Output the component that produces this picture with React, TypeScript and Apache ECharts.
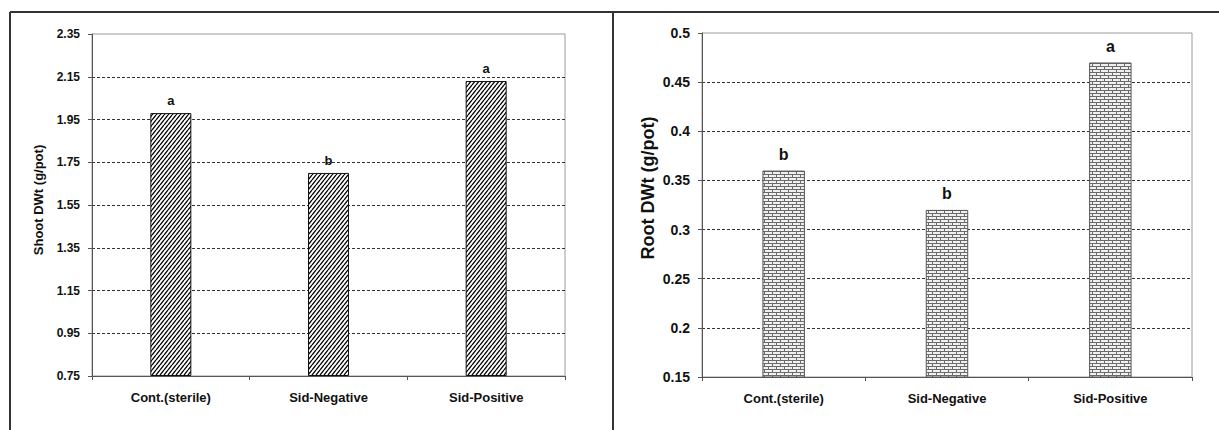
import React, { useEffect, useRef } from 'react';
import * as echarts from 'echarts';

const categories = ['Cont.(sterile)', 'Sid-Negative', 'Sid-Positive'];

const shootValues = [1.98, 1.7, 2.13];
const shootLetters = ['a', 'b', 'a'];
const shootAxisMin = 0.75;
const shootAxisMax = 2.35;
const shootAxisStep = 0.2;
const shootAxisTitle = 'Shoot DWt (g/pot)';

const rootValues = [0.36, 0.32, 0.47];
const rootLetters = ['b', 'b', 'a'];
const rootAxisMin = 0.15;
const rootAxisMax = 0.5;
const rootAxisStep = 0.05;
const rootAxisTitle = 'Root DWt (g/pot)';

const FONT = '"Liberation Sans", Arial, sans-serif';

function svgUrl(svg: string) {
  return 'data:image/svg+xml;charset=utf-8,' + encodeURIComponent(svg);
}

const hatchTile = svgUrl(
  '<svg xmlns="http://www.w3.org/2000/svg" width="4" height="5">' +
    '<rect width="4" height="5" fill="#ffffff"/>' +
    '<path d="M0,5 L4,0 M-4,5 L0,0 M4,5 L8,0" stroke="#000" stroke-width="1.3"/>' +
    '</svg>'
);

const brickTile = svgUrl(
  '<svg xmlns="http://www.w3.org/2000/svg" width="8" height="6">' +
    '<rect width="8" height="6" fill="#f0f0f0"/>' +
    '<path d="M0,0.5 L8,0.5 M0,3.5 L8,3.5 M0.5,0.5 L0.5,3.5 M4.5,3.5 L4.5,6.5" stroke="#6a6a6a" stroke-width="1"/>' +
    '</svg>'
);

export default function App() {
  const ref = useRef<HTMLDivElement>(null);

  useEffect(() => {
    document.body.style.margin = '0';
    const chart = echarts.init(ref.current!, null, { renderer: 'svg' });

    const gridLine = { show: true, showMaxLine: false, lineStyle: { color: '#333', type: [3, 2] as any, width: 1 } };

    const option: any = {
      animation: false,
      backgroundColor: '#ffffff',
      textStyle: { fontFamily: FONT },
      grid: [
        { left: 92, top: 34, width: 473, height: 342, show: true, borderColor: '#9a9a9a', borderWidth: 1 },
        { left: 702, top: 33, width: 490, height: 344, show: true, borderColor: '#9a9a9a', borderWidth: 1 },
      ],
      xAxis: [
        {
          type: 'category', gridIndex: 0, data: categories,
          axisLine: { lineStyle: { color: '#555', width: 1 } },
          axisTick: { show: true, length: 4, lineStyle: { color: '#555' } },
          axisLabel: { color: '#111', fontWeight: 'bold', fontSize: 13, margin: 15, fontFamily: FONT },
        },
        {
          type: 'category', gridIndex: 1, data: categories,
          axisLine: { lineStyle: { color: '#555', width: 1 } },
          axisTick: { show: true, length: 4, lineStyle: { color: '#555' } },
          axisLabel: { color: '#111', fontWeight: 'bold', fontSize: 13, margin: 15, fontFamily: FONT },
        },
      ],
      yAxis: [
        {
          type: 'value', gridIndex: 0,
          min: 0, max: shootAxisMax - shootAxisMin, interval: shootAxisStep,
          axisLine: { show: true, lineStyle: { color: '#555' } },
          axisTick: { show: true, length: 4, lineStyle: { color: '#555' } },
          axisLabel: {
            color: '#111', fontWeight: 'bold', fontSize: 12, margin: 12, fontFamily: FONT,
            formatter: (v: number) => (v + shootAxisMin).toFixed(2),
          },
          splitLine: gridLine,
        },
        {
          type: 'value', gridIndex: 1,
          min: rootAxisMin, max: rootAxisMax, interval: rootAxisStep,
          axisLine: { show: true, lineStyle: { color: '#555' } },
          axisTick: { show: true, length: 4, lineStyle: { color: '#555' } },
          axisLabel: {
            color: '#111', fontWeight: 'bold', fontSize: 14, margin: 12, fontFamily: FONT,
            formatter: (v: number) => String(Math.round(v * 100) / 100),
          },
          splitLine: gridLine,
        },
      ],
      series: [
        {
          type: 'bar', xAxisIndex: 0, yAxisIndex: 0, barWidth: '26%',
          data: shootValues.map((v) => v - shootAxisMin),
          itemStyle: {
            color: { image: hatchTile, repeat: 'repeat', imageWidth: 4, imageHeight: 5 },
            borderColor: '#111', borderWidth: 1,
          },
          label: {
            show: true, position: 'top', distance: 6,
            formatter: (p: any) => shootLetters[p.dataIndex],
            fontWeight: 'bold', fontSize: 13, color: '#111', fontFamily: FONT,
          },
        },
        {
          type: 'bar', xAxisIndex: 1, yAxisIndex: 1, barWidth: '26%',
          data: rootValues,
          itemStyle: {
            color: { image: brickTile, repeat: 'repeat', imageWidth: 8, imageHeight: 6 },
            borderColor: '#555', borderWidth: 1,
          },
          label: {
            show: true, position: 'top', distance: 8,
            formatter: (p: any) => rootLetters[p.dataIndex],
            fontWeight: 'bold', fontSize: 16, color: '#111', fontFamily: FONT,
          },
        },
      ],
      graphic: [
        { type: 'line', shape: { x1: 10, y1: 12, x2: 1219, y2: 12 }, style: { stroke: '#333', lineWidth: 2 } },
        { type: 'line', shape: { x1: 10, y1: 12, x2: 10, y2: 430 }, style: { stroke: '#333', lineWidth: 2 } },
        { type: 'line', shape: { x1: 613, y1: 12, x2: 613, y2: 430 }, style: { stroke: '#333', lineWidth: 2 } },
        {
          type: 'text', x: 38, y: 200, rotation: Math.PI / 2,
          style: {
            text: shootAxisTitle, fill: '#111', font: `bold 13px ${FONT}`,
            textAlign: 'center', textVerticalAlign: 'middle',
          },
        },
        {
          type: 'text', x: 648, y: 188, rotation: Math.PI / 2,
          style: {
            text: rootAxisTitle, fill: '#111', font: `bold 18px ${FONT}`,
            textAlign: 'center', textVerticalAlign: 'middle',
          },
        },
      ],
    };

    chart.setOption(option);
    return () => chart.dispose();
  }, []);

  return <div ref={ref} style={{ width: 1219, height: 430 }} />;
}
